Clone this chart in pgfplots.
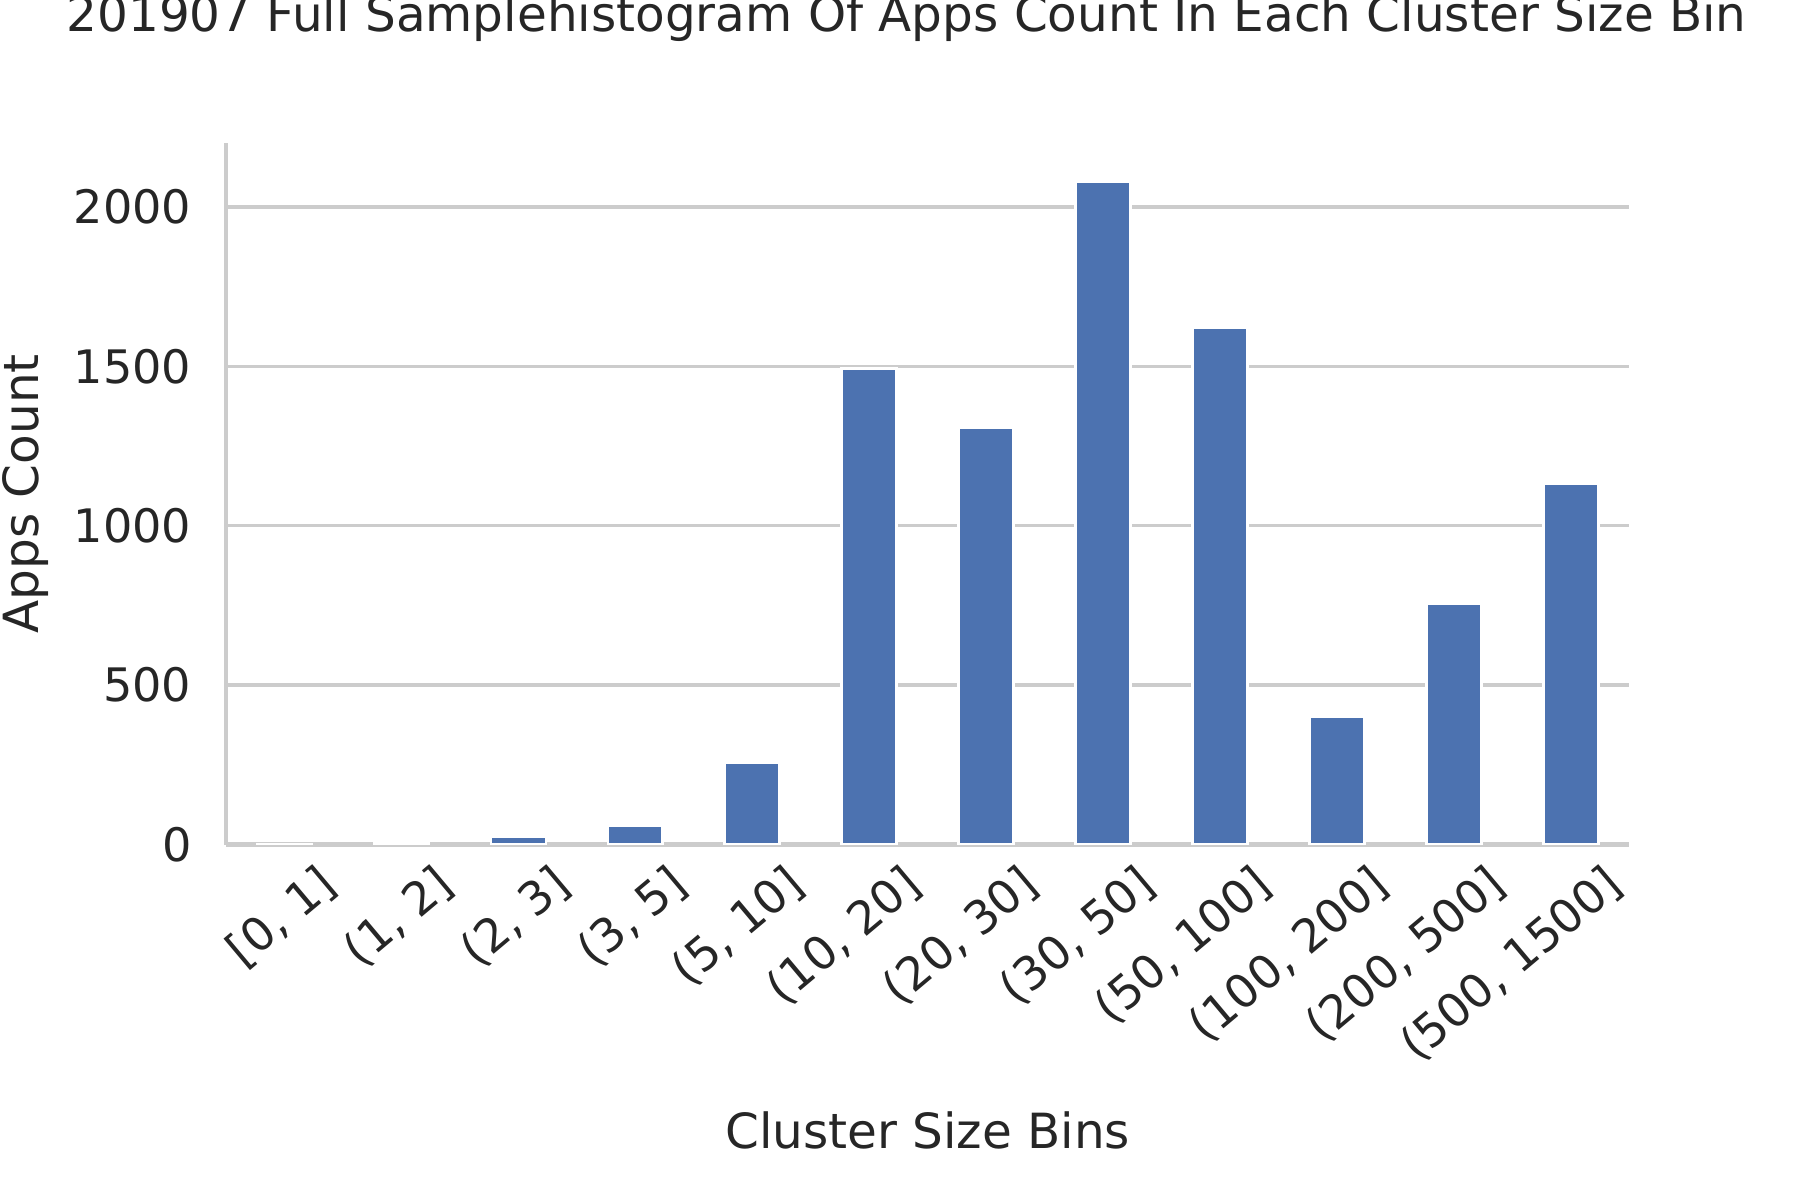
\documentclass[border=0pt]{standalone}
\usepackage{pgfplots}
\pgfplotsset{compat=1.18}
\usepackage{fontspec}
\setmainfont{DejaVu Sans}
\definecolor{bar}{HTML}{4C72B0}
\definecolor{gr}{HTML}{CCCCCC}
\definecolor{tx}{HTML}{262626}
\begin{document}
\begin{tikzpicture}
\useasboundingbox (0,0) rectangle (390pt,260pt);
\begin{axis}[at={(49pt,77pt)}, anchor=south west,
  scale only axis, width=304pt, height=152pt,
  xmin=-0.5, xmax=11.5, ymin=0, ymax=2200,
  axis lines*=left, axis line style={gr, line width=1pt},
  ytick={0,500,1000,1500,2000}, ymajorgrids, grid style={gr, line width=0.75pt},
  xtick={0,...,11},
  xticklabels={{[0, 1]},{(1, 2]},{(2, 3]},{(3, 5]},{(5, 10]},{(10, 20]},{(20, 30]},{(30, 50]},{(50, 100]},{(100, 200]},{(200, 500]},{(500, 1500]}},
  x tick label style={rotate=40, anchor=north east, inner sep=1pt, yshift=-6pt, xshift=4pt},
  major tick length=0pt,
  tick label style={font=\fontsize{10}{12}\selectfont, text=tx},
  /pgf/number format/assume math mode=true,
  /pgf/number format/1000 sep={},
  yticklabel style={xshift=-4pt},
  label style={font=\fontsize{10.5}{12}\selectfont, text=tx},
  xlabel={Cluster Size Bins}, ylabel={Apps Count},
  xlabel style={at={(axis description cs:0.5,0)}, anchor=center, yshift=-62pt},
  ylabel style={at={(axis description cs:0,0.5)}, anchor=center, rotate=0, yshift=43.5pt},
  title={201907 Full Samplehistogram Of Apps Count In Each Cluster Size Bin},
  title style={font=\fontsize{10.5}{12}\selectfont, text=tx, at={(axis description cs:0.485,1)}, anchor=center, yshift=21pt},
]
\addplot[ybar, bar width=0.47, fill=bar, draw=white, line width=0.6pt] coordinates {
(0,2) (1,11) (2,25) (3,61) (4,257) (5,1494) (6,1309) (7,2080) (8,1620) (9,401) (10,756) (11,1132)};
\end{axis}
\end{tikzpicture}
\end{document}
